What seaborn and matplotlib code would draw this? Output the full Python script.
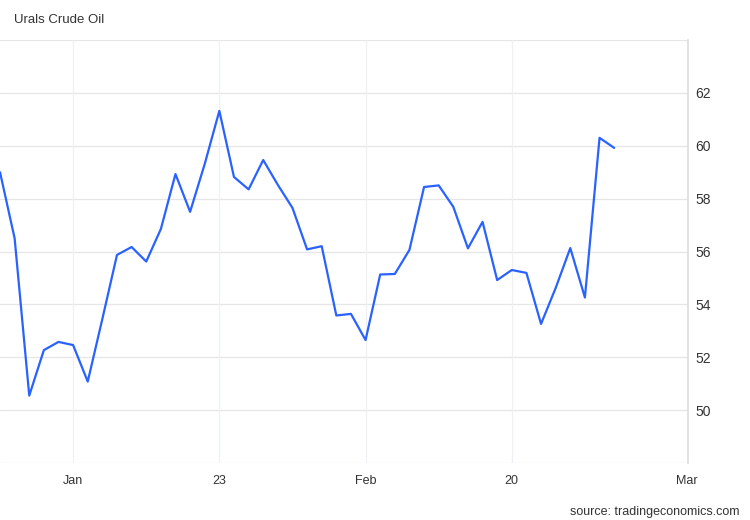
import pandas as pd
import seaborn as sns
import matplotlib.pyplot as plt

# Urals crude oil, one value per point
prices = [59.0, 56.5, 50.55, 52.27, 52.58, 52.46, 51.08, 53.45, 55.87, 56.17,
          55.62, 56.85, 58.93, 57.5, 59.31, 61.32, 58.82, 58.35, 59.46, 58.52,
          57.65, 56.08, 56.2, 53.58, 53.64, 52.65, 55.13, 55.15, 56.06, 58.44,
          58.5, 57.69, 56.12, 57.12, 54.92, 55.3, 55.19, 53.26, 54.62, 56.13,
          54.26, 60.3, 59.92]

tick_pos = [5, 15, 25, 35, 47]
tick_labels = ["Jan", "23", "Feb", "20", "Mar"]
y_ticks = [50, 52, 54, 56, 58, 60, 62]
y_grid = [48, 50, 52, 54, 56, 58, 60, 62, 64]

data = pd.DataFrame({"idx": range(len(prices)), "price": prices})

sns.set_style("white")
plt.rcParams['font.family'] = ['Liberation Sans', 'DejaVu Sans']

fig = plt.figure(figsize=(7.5, 5.2), dpi=100)
ax = fig.add_axes([0, 1 - 463 / 520, 688 / 750, 423 / 520])

sns.lineplot(data=data, x="idx", y="price", ax=ax, color="#2962ff", linewidth=1.6)

ax.set_xlim(0, 47.05)
ax.set_ylim(48, 64)

# grid lines drawn by hand so the unlabelled top/bottom lines show too
for y in y_grid:
    ax.axhline(y, color="#e6e6e6", linewidth=0.9, zorder=0)
for x in tick_pos[:-1]:
    ax.axvline(x, color="#eef0f3", linewidth=0.9, zorder=0)

ax.set_xticks(tick_pos)
ax.set_xticklabels(tick_labels)
ax.set_yticks(y_ticks)
ax.yaxis.tick_right()
ax.tick_params(axis="y", length=0, pad=5, labelsize=10, colors="#333333")
ax.tick_params(axis="x", length=0, pad=9, labelsize=9, colors="#333333")
ax.set_xlabel("")
ax.set_ylabel("")

for side in ["top", "left", "bottom"]:
    ax.spines[side].set_visible(False)
ax.spines["right"].set_color("#dddddd")
ax.spines["right"].set_linewidth(1.2)

fig.text(14 / 750, 1 - 20 / 520, "Urals Crude Oil", fontsize=9.5, color="#333333",
         ha="left", va="center")
fig.text(740 / 750, 1 - 512 / 520, "source: tradingeconomics.com", fontsize=9,
         color="#333333", ha="right", va="center")

fig.savefig("out.png", dpi=100)
